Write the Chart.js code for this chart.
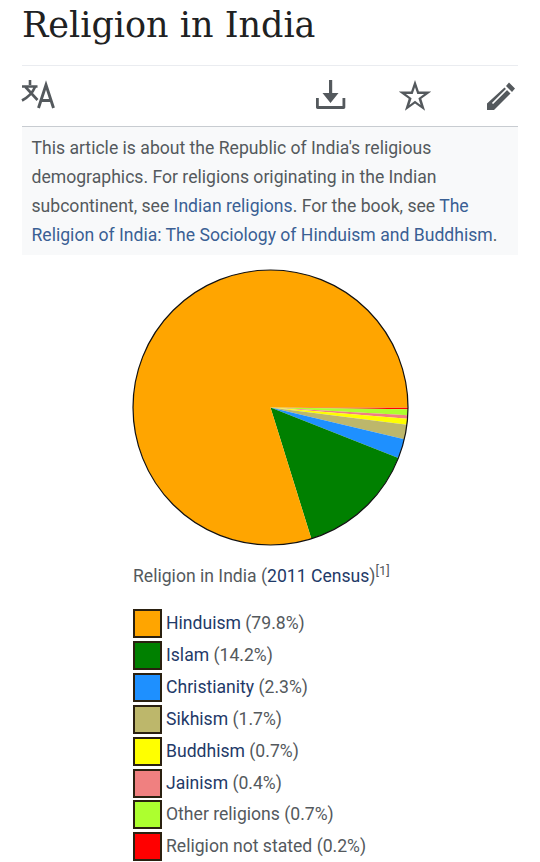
<!DOCTYPE html>
<html>
<head>
<meta charset="utf-8">
<title>Religion in India</title>
<script src="https://cdn.jsdelivr.net/npm/chart.js@4"></script>
<style>
  html, body { margin: 0; padding: 0; background: #fff; }
  body { position: relative; width: 540px; height: 862px; overflow: hidden; font-family: Roboto, sans-serif; color: #54595d; }
  a { color: #3a5f94; text-decoration: none; }
  h1 { position: absolute; left: 22px; top: 1px; margin: 0; font: 400 35px/48px "DejaVu Serif", serif; color: #202122; white-space: nowrap; }
  .rule { position: absolute; left: 22px; width: 496px; height: 1px; }
  #toolbar { position: absolute; left: 0; top: 70px; }
  #notice { position: absolute; left: 22px; top: 127px; width: 496px; height: 128px; background: #f8f9fa; box-sizing: border-box; padding: 7px 0 0 9.5px; font-size: 17.6px; line-height: 29px; white-space: nowrap; }
  #chartBox { position: absolute; left: 128px; top: 265px; width: 285px; height: 285px; }
  #caption { position: absolute; left: 133px; top: 563px; font-size: 17.6px; line-height: 26px; white-space: nowrap; }
  #caption a, #legend a { color: #1f3a68; }
  #caption sup { font-size: 13px; line-height: 0; }
  #legend { position: absolute; left: 133px; top: 609px; }
  .row { position: absolute; left: 0; height: 30px; white-space: nowrap; font-size: 17.6px; line-height: 28px; }
  .swatch { position: absolute; left: 0; top: 0; width: 25px; height: 25px; border: 2px solid #2a2010; }
  .label { position: absolute; left: 33px; top: 0; }
</style>
</head>
<body>
<h1>Religion in India</h1>
<div class="rule" style="top:65px;background:#eaecf0"></div>
<div class="rule" style="top:126px;background:#c8ccd1"></div>

<svg id="toolbar" width="540" height="50" viewBox="0 70 540 50">
  <!-- language -->
  <g fill="none" stroke="#54595d" stroke-width="2.6">
    <path d="M22 86.500h15.500M30 80v5M25.500 87l12 13M35 87c-2 5-6.500 10-13 13.500"/>
    <path d="M38.500 108l7.500-23 7.500 23M41 100.500h10" stroke-width="2.900"/>
  </g>
  <!-- download -->
  <g fill="#54595d">
    <path d="M329 80h3.200v13h6.300l-8 10-8-10h6.500z"/>
    <path d="M316 98h2.800v8h23.700v-8h2.800v9.300c0 1-.7 1.700-1.700 1.700H317.700c-1 0-1.700-.7-1.700-1.700z"/>
  </g>
  <!-- watch star -->
  <path fill="#54595d" fill-rule="evenodd" d="M415 80l3.900 11.600h12.400l-10 7.200 3.800 11.900L415 103.400l-10.100 7.300 3.800-11.900-10-7.200h12.400zm0 7.200l-2.300 6.900h-6.800l5.700 4.100-2.200 6.800 5.600-4.300 5.600 4.300-2.200-6.800 5.700-4.100h-6.800z"/>
  <!-- edit -->
  <path fill="#54595d" d="M509 82.500l6 6-3 3.500-6-6zM504.500 87.500l6 6L494 110h-7v-6.500z"/>
  <path stroke="#fff" stroke-width="1.700" d="M492.500 103.500l14.500-14.500"/>
</svg>

<div id="notice">This article is about the Republic of India's religious<br>demographics. For religions originating in the Indian<br>subcontinent, see <a href="#">Indian religions</a>. For the book, see <a href="#">The</a><br><a href="#">Religion of India: The Sociology of Hinduism and Buddhism</a>.</div>

<div id="chartBox"><canvas id="pieChart" width="285" height="285"></canvas></div>

<div id="caption">Religion in India (<a href="#">2011 Census</a>)<sup>[1]</sup></div>
<div id="legend"></div>

<script>
// census shares, listed the way the legend reads
const religions = ['Hinduism', 'Islam', 'Christianity', 'Sikhism', 'Buddhism', 'Jainism', 'Other religions', 'Religion not stated'];
const shares = [79.8, 14.2, 2.3, 1.7, 0.7, 0.4, 0.7, 0.2];
const colors = ['#ffa500', '#008000', '#1e90ff', '#bdb76b', '#ffff00', '#f08080', '#adff2f', '#ff0000'];
const linked = [true, true, true, true, true, true, false, false];

// black ring round the pie, slices themselves have no border
const outerRing = {
  id: 'outerRing',
  afterDatasetsDraw(chart) {
    const arc = chart.getDatasetMeta(0).data[0];
    const c = chart.ctx;
    c.save();
    c.beginPath();
    c.arc(arc.x, arc.y, arc.outerRadius, 0, Math.PI * 2);
    c.lineWidth = 1.2;
    c.strokeStyle = '#111';
    c.stroke();
    c.restore();
  }
};

const ctx = document.getElementById('pieChart').getContext('2d');
const pieChart = new Chart(ctx, {
  type: 'pie',
  // reversed: the small slices start at 3 o'clock and run clockwise
  data: {
    labels: religions.slice().reverse(),
    datasets: [
      {
        data: shares.slice().reverse(),
        backgroundColor: colors.slice().reverse(),
        borderWidth: 0
      }
    ]
  },
  options: {
    responsive: false,
    animation: false,
    rotation: 90,
    layout: { padding: 5 },
    plugins: {
      legend: { display: false },
      tooltip: { enabled: false }
    }
  },
  plugins: [outerRing]
});

const legend = document.getElementById('legend');
religions.forEach((name, i) => {
  const row = document.createElement('div');
  row.className = 'row';
  row.style.top = (i * 31.9) + 'px';
  const text = linked[i] ? '<a href="#">' + name + '</a>' : name;
  row.innerHTML = '<span class="swatch" style="background:' + colors[i] + '"></span>' +
    '<span class="label">' + text + ' (' + shares[i] + '%)</span>';
  legend.appendChild(row);
});
</script>
</body>
</html>
